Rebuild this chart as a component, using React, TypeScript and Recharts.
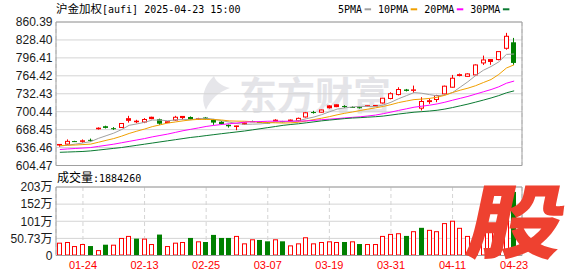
import React from 'react';
import { ComposedChart, Bar, Line, XAxis, YAxis, CartesianGrid } from 'recharts';

const dates = ['01-21','01-22','01-23','01-24','01-27','02-05','02-06','02-07','02-10','02-11','02-12','02-13','02-14','02-17','02-18','02-19','02-20','02-21','02-24','02-25','02-26','02-27','02-28','03-03','03-04','03-05','03-06','03-07','03-10','03-11','03-12','03-13','03-14','03-17','03-18','03-19','03-20','03-21','03-24','03-25','03-26','03-27','03-28','03-31','04-01','04-02','04-03','04-07','04-08','04-09','04-10','04-11','04-14','04-15','04-16','04-17','04-18','04-21','04-22','04-23'];

const opens = [641, 642.6, 648, 647.5, 650.2, 670, 674.5, 671, 672.3, 685, 682.5, 682, 688, 687, 681, 685.5, 690, 691, 687, 690, 687, 682.5, 677, 674, 678.3, 683.5, 682.3, 681.2, 684, 683.5, 684.5, 684.5, 691, 699.8, 699.5, 707.5, 709.5, 710.5, 708.8, 708.5, 710.3, 710.8, 716, 724, 731, 740, 738.5, 706.7, 718.5, 722.2, 732.2, 744.1, 765, 763.5, 766.1, 787.4, 790, 793.4, 813.5, 824.2];
const highs = [642.5, 651, 648.5, 651, 652.5, 672.5, 675.5, 673, 680, 693, 686, 689, 691.5, 688, 683.5, 693, 692.5, 692, 689.5, 691, 687.5, 683.5, 677.5, 675.5, 681, 684.5, 683, 682, 687, 684, 686.5, 690, 700, 702, 704, 712, 713.5, 712, 710, 710, 711.5, 712, 725, 735, 744, 741, 747, 726.3, 724, 730.5, 747, 766, 768.5, 769, 785, 800.5, 794, 808, 841, 832];
const lows = [638, 641, 646.5, 645, 647, 668.5, 670.5, 668, 671.5, 681, 680, 680, 687, 677, 680, 684, 686, 686, 686, 686, 677, 677.5, 672, 667.5, 677, 682, 680.5, 680, 683.5, 681.5, 683, 683, 690, 697, 698.5, 706, 708.5, 707, 707, 706, 709.5, 710.3, 715, 722.5, 729.5, 736.5, 734, 702.6, 714.4, 717.4, 731, 743, 763.5, 762.5, 765, 783.8, 784, 792, 811, 783.8];
const closes = [642, 647.5, 647.4, 648.5, 649.5, 671, 671.5, 670.5, 679.4, 688, 683.5, 686.5, 690.5, 679, 682.5, 690.5, 692, 687, 688, 687, 681, 678.5, 674.5, 675, 680.3, 682.7, 681, 680.6, 685.3, 682.5, 685.5, 688.5, 698.5, 699.3, 703.5, 710.8, 712.8, 709.3, 708.3, 707.8, 711, 711.5, 724.5, 732.5, 740, 737.5, 739.3, 718.6, 720, 729.3, 745.9, 760.1, 766.5, 767.8, 783.8, 792.7, 793.4, 807.6, 834.9, 787.4];

const ma5 = [639, 640.8, 642.6, 644.7, 647.0, 652.8, 657.5, 662.2, 668.4, 676.1, 678.6, 681.5, 685.5, 685.4, 684.3, 685.6, 686.8, 686.1, 687.9, 688.8, 687.0, 684.4, 681.9, 679.3, 677.9, 678.2, 678.6, 680.0, 681.9, 682.4, 683.0, 684.5, 687.9, 690.9, 695.1, 700.2, 705.0, 707.2, 708.9, 709.8, 709.7, 709.5, 712.4, 717.2, 723.6, 729.0, 734.5, 733.3, 730.9, 728.7, 730.4, 734.6, 744.3, 753.9, 764.9, 774.3, 781.0, 789.2, 802.6, 803.3];
const ma10 = [640.0, 640.5, 641.0, 641.8, 642.6, 645.9, 649.3, 652.5, 656.7, 661.6, 665.7, 669.5, 673.8, 676.9, 680.2, 682.1, 684.1, 685.8, 686.7, 686.6, 686.3, 685.6, 684.0, 683.6, 683.4, 682.6, 681.5, 681.0, 680.6, 680.2, 680.6, 681.6, 684.0, 686.4, 688.8, 691.6, 694.8, 697.6, 699.9, 702.5, 705.0, 707.3, 709.8, 713.0, 716.7, 719.4, 722.0, 722.9, 724.1, 726.2, 729.7, 734.6, 738.8, 742.4, 746.8, 752.4, 757.8, 766.8, 778.3, 784.1];
const ma20 = [633.0, 634.0, 634.8, 635.6, 636.5, 638.5, 640.5, 642.5, 645.0, 647.5, 650.0, 652.5, 655.5, 658.0, 660.5, 663.5, 666.5, 669.0, 671.5, 674.1, 676.0, 677.6, 678.9, 680.2, 681.8, 682.4, 682.8, 683.4, 683.6, 683.4, 683.5, 683.6, 684.0, 685.0, 686.1, 687.1, 688.1, 689.3, 690.3, 691.3, 692.8, 694.4, 696.9, 699.7, 702.7, 705.5, 708.4, 710.2, 712.0, 714.3, 717.3, 720.9, 724.3, 727.7, 731.8, 735.9, 739.9, 744.8, 751.2, 755.1];
const ma30 = [628.0, 628.5, 629.0, 629.5, 630.5, 632.0, 633.5, 635.0, 636.5, 638.5, 640.5, 642.5, 644.5, 646.5, 648.5, 650.5, 652.5, 654.5, 656.0, 657.8, 659.5, 661.2, 662.8, 664.4, 666.0, 668.0, 670.0, 672.0, 674.0, 676.1, 677.6, 678.9, 680.6, 682.3, 684.1, 685.5, 686.8, 688.1, 689.1, 689.8, 690.7, 691.5, 692.6, 694.4, 696.3, 697.9, 699.5, 700.5, 701.6, 703.0, 705.1, 707.8, 710.9, 714.0, 717.5, 721.1, 724.9, 729.1, 734.1, 737.6];

const volumes = [380000, 400000, 280000, 340000, 280000, 160000, 320000, 320000, 520000, 580000, 500000, 500000, 340000, 620000, 280000, 380000, 400000, 520000, 420000, 400000, 610000, 520000, 520000, 580000, 360000, 480000, 460000, 420000, 480000, 420000, 300000, 360000, 540000, 360000, 400000, 420000, 400000, 400000, 420000, 340000, 340000, 340000, 580000, 640000, 660000, 580000, 720000, 820000, 760000, 720000, 960000, 1030000, 820000, 580000, 620000, 720000, 740000, 860000, 1240000, 1884260];
const volumeUp = [true, true, true, true, false, true, false, true, true, true, false, true, true, false, true, true, true, false, true, false, false, false, false, true, true, true, false, false, true, false, true, true, true, true, true, true, true, false, true, false, true, true, true, true, true, false, true, false, true, true, true, true, true, true, true, true, true, true, true, false];

const priceTicks = [604.47, 636.46, 668.45, 700.44, 732.43, 764.42, 796.41, 828.40, 860.39];
const volumeTicks = [0, 507300, 1014600, 1521900, 2029200];
const dateTicks = ['01-24', '02-13', '02-25', '03-07', '03-19', '03-31', '04-11', '04-23'];

const titleName = '沪金加权';
const titleCode = '[aufi] 2025-04-23 15:00';
const volumeLabel = '成交量';
const lastVolume = 1884260;
const legendItems = [
  { label: '5PMA', color: '#a0a0a0' },
  { label: '10PMA', color: '#f0a000' },
  { label: '20PMA', color: '#ff00ff' },
  { label: '30PMA', color: '#0a7a32' },
];
const watermark = '东方财富';
const badge = '股';

const RED = '#ff0000';
const GREEN = '#008000';
const FRAME = '#a0a0a0';
const GRID = '#d4d4d4';
const MONO = "'DejaVu Sans Mono', monospace";
const CJK = "'Noto Sans CJK SC', sans-serif";
const SANS = "'Liberation Sans', 'Noto Sans CJK SC', sans-serif";

const data = dates.map((d, i) => ({
  date: d,
  open: opens[i],
  high: highs[i],
  low: lows[i],
  close: closes[i],
  ma5: ma5[i],
  ma10: ma10[i],
  ma20: ma20[i],
  ma30: ma30[i],
  vol: volumes[i],
  volUp: volumeUp[i],
}));

function CandleShape(props: any) {
  const { x, y, width, height, payload } = props;
  if (x == null || y == null || !payload) return null;
  const { open, close, high, low } = payload;
  const span = high - low;
  const k = span > 0 ? height / span : 0;
  const py = (v: number) => y + (high - v) * k;
  const cx = Math.floor(x + width / 2) + 0.5;
  const yHigh = py(high);
  const yLow = py(low);
  const yTop = py(Math.max(open, close));
  const yBot = py(Math.min(open, close));
  const bodyH = yBot - yTop;
  if (close >= open) {
    return (
      <g>
        <line x1={cx} x2={cx} y1={yHigh} y2={yTop} stroke={RED} strokeWidth={1} />
        <line x1={cx} x2={cx} y1={yBot} y2={yLow} stroke={RED} strokeWidth={1} />
        {bodyH < 2 ? (
          <rect x={cx - 2.5} y={yTop - 0.5} width={5} height={Math.max(1, bodyH + 1)} fill={RED} />
        ) : (
          <rect x={cx - 2} y={yTop} width={4} height={bodyH} fill="#ffffff" stroke={RED} strokeWidth={1} />
        )}
      </g>
    );
  }
  return (
    <g>
      <line x1={cx} x2={cx} y1={yHigh} y2={yLow} stroke={GREEN} strokeWidth={1} />
      <rect x={cx - 2.5} y={yTop} width={5} height={Math.max(1, bodyH)} fill={GREEN} />
    </g>
  );
}

function VolumeShape(props: any) {
  const { x, y, width, height, payload } = props;
  if (x == null || y == null || !payload) return null;
  const cx = Math.floor(x + width / 2) + 0.5;
  const bottom = y + height;
  if (payload.volUp) {
    return <rect x={cx - 2} y={y + 0.5} width={4} height={Math.max(0, bottom - y - 1)} fill="#ffffff" stroke={RED} strokeWidth={1} />;
  }
  return <rect x={cx - 2.5} y={y} width={5} height={height} fill={GREEN} />;
}

const formatVolume = (v: number) => {
  if (v === 0) return '0';
  const w = v / 10000;
  return w >= 100 ? `${Math.round(w)}万` : `${w.toFixed(2)}万`;
};

const yTick = { fill: '#1a1a1a', fontSize: 12, fontFamily: SANS };

export default function App() {
  let lx = 338;
  const legend = legendItems.map((it) => {
    const w = it.label.length * 6.02;
    const item = { ...it, x: lx, dashX: lx + w + 2.5 };
    lx = lx + w + 2.5 + 6.5 + 7;
    return item;
  });

  return (
    <div style={{ position: 'absolute', left: 0, top: 0, width: 578, height: 276, background: '#fff', overflow: 'hidden' }}>
      <svg width={578} height={276} style={{ position: 'absolute', left: 0, top: 0 }}>
        <path d="M214 76 C204 86 200 98 206 110 C210 100 218 92 230 88 C222 86 216 82 214 76 Z" fill="#e6e6ea" />
        <text x={239} y={109} fontSize={38} fontWeight={700} fontFamily={CJK} fill="#e4e4e8">
          {watermark}
        </text>
      </svg>

      <div style={{ position: 'absolute', left: 0, top: 0 }}>
        <ComposedChart width={578} height={172} data={data} margin={{ top: 21, right: 55, bottom: 5.5, left: 0 }}>
          <CartesianGrid horizontal={true} vertical={false} stroke={GRID} />
          <CartesianGrid horizontal={false} vertical={true} stroke={GRID} strokeDasharray="4 3" />
          <XAxis dataKey="date" ticks={dateTicks} interval={0} tick={false} tickLine={false} height={1}
            axisLine={{ stroke: FRAME }} padding={{ left: 0, right: 4 }} />
          <XAxis xAxisId="top" orientation="top" dataKey="date" tick={false} tickLine={false} height={1}
            axisLine={{ stroke: FRAME }} />
          <YAxis domain={[604.47, 860.39]} ticks={priceTicks} interval={0} allowDataOverflow width={56}
            tickLine={false} tickSize={0} tickMargin={3.5} axisLine={{ stroke: FRAME }}
            tick={yTick} tickFormatter={(v: number) => v.toFixed(2)} />
          <YAxis yAxisId="right" orientation="right" domain={[604.47, 860.39]} width={1} tick={false}
            tickLine={false} axisLine={{ stroke: FRAME }} />
          <Line dataKey="ma5" stroke={legendItems[0].color} strokeWidth={1} dot={false} isAnimationActive={false} type="linear" />
          <Line dataKey="ma10" stroke={legendItems[1].color} strokeWidth={1} dot={false} isAnimationActive={false} type="linear" />
          <Line dataKey="ma20" stroke={legendItems[2].color} strokeWidth={1} dot={false} isAnimationActive={false} type="linear" />
          <Line dataKey="ma30" stroke={legendItems[3].color} strokeWidth={1} dot={false} isAnimationActive={false} type="linear" />
          <Bar dataKey={(d: any) => [d.low, d.high]} barSize={5} shape={CandleShape} isAnimationActive={false} />
        </ComposedChart>
      </div>

      <div style={{ position: 'absolute', left: 0, top: 170 }}>
        <ComposedChart width={578} height={106} data={data} margin={{ top: 16, right: 55, bottom: 0.5, left: 0 }}>
          <CartesianGrid horizontal={true} vertical={false} stroke={GRID} />
          <CartesianGrid horizontal={false} vertical={true} stroke={GRID} strokeDasharray="4 3" />
          <XAxis dataKey="date" ticks={dateTicks} interval={0} tickLine={false} tickSize={0} tickMargin={6} height={20}
            axisLine={{ stroke: FRAME }} padding={{ left: 0, right: 4 }}
            tick={{ fill: RED, fontSize: 11, fontFamily: SANS }} />
          <XAxis xAxisId="top" orientation="top" dataKey="date" tick={false} tickLine={false} height={1}
            axisLine={{ stroke: FRAME }} />
          <YAxis domain={[0, 2029200]} ticks={volumeTicks} interval={0} allowDataOverflow width={56}
            tickLine={false} tickSize={0} tickMargin={3.5} axisLine={{ stroke: FRAME }}
            tick={yTick} tickFormatter={formatVolume} />
          <YAxis yAxisId="right" orientation="right" domain={[0, 2029200]} width={1} tick={false}
            tickLine={false} axisLine={{ stroke: FRAME }} />
          <Bar dataKey="vol" barSize={5} shape={VolumeShape} isAnimationActive={false} />
        </ComposedChart>
      </div>

      <svg width={578} height={276} style={{ position: 'absolute', left: 0, top: 0, pointerEvents: 'none' }}>
        <text x={56} y={12.7} fill="#000">
          <tspan fontFamily={CJK} fontSize={11.5}>{titleName}</tspan>
          <tspan fontFamily={MONO} fontSize={10}>{titleCode}</tspan>
        </text>
        {legend.map((it) => (
          <g key={it.label}>
            <text x={it.x} y={12.7} fontFamily={MONO} fontSize={10} fill="#000">{it.label}</text>
            <rect x={it.dashX} y={8.3} width={6.5} height={2} fill={it.color} />
          </g>
        ))}
        <text x={57} y={181.7} fill="#000">
          <tspan fontFamily={CJK} fontSize={12}>{volumeLabel}</tspan>
          <tspan fontFamily={MONO} fontSize={10}>{`:${lastVolume}`}</tspan>
        </text>
        <g transform="translate(511, 252) skewX(-12) scale(1.18, 1)">
          <text x={0} y={0} textAnchor="middle" fontFamily={CJK} fontSize={81} fontWeight={900} fill="#ee4130">{badge}</text>
        </g>
      </svg>
    </div>
  );
}
